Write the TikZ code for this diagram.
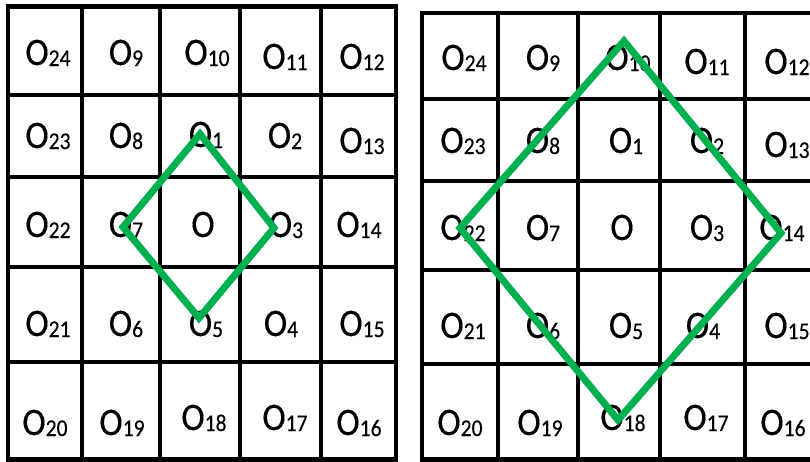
\documentclass[tikz,border=0pt]{standalone}
\usepackage{fontspec}
\setmainfont{Carlito}[FakeStretch=0.9,FakeBold=0.3]
\tikzset{
  gridline/.style={line width=4.2pt, black},
  diamondline/.style={line width=7pt, draw=diamondgreen, line join=miter},
  lbl/.style={anchor=base, inner sep=0pt, font=\fontsize{39}{39}\selectfont},
}
\definecolor{diamondgreen}{RGB}{0,176,80}
\newcommand{\Olbl}[1]{O\raisebox{-1pt}{\fontsize{24}{24}\selectfont #1}}
\begin{document}
\begin{tikzpicture}[x=1pt,y=-1pt]
\useasboundingbox (0,0) rectangle (810,461);
\clip (0,0) rectangle (810,461);
\fill[white] (0,0) rectangle (810,461);
% ---------- left grid ----------
\foreach \x in {8,82,160,240,321,396} \draw[gridline] (\x,6.5) -- (\x,459.5);
\foreach \y in {6.5,95,177,267,362,459.5} \draw[gridline] (5.9,\y) -- (398.1,\y);
% labels left
\node[lbl] (La24) at (48,65) {\Olbl{24}};
\node[lbl] (La9)  at (126,65) {\Olbl{9}};
\node[lbl] (La10) at (207,65) {\Olbl{10}};
\node[lbl] (La11) at (285,69) {\Olbl{11}};
\node[lbl] (La12) at (362,69) {\Olbl{12}};
\node[lbl] (La23) at (48,148) {\Olbl{23}};
\node[lbl] (La8)  at (126,148) {\Olbl{8}};
\node[lbl] (La1)  at (206,147) {\Olbl{1}};
\node[lbl] (La2)  at (285,148) {\Olbl{2}};
\node[lbl] (La13) at (362,153) {\Olbl{13}};
\node[lbl] (La22) at (48,237) {\Olbl{22}};
\node[lbl] (La7)  at (126,237) {\Olbl{7}};
\node[lbl] (La0)  at (203,237) {O};
\node[lbl] (La3)  at (286,237) {\Olbl{3}};
\node[lbl] (La14) at (359,237) {\Olbl{14}};
\node[lbl] (La21) at (48,336) {\Olbl{21}};
\node[lbl] (La6)  at (126,336) {\Olbl{6}};
\node[lbl] (La5)  at (206,336) {\Olbl{5}};
\node[lbl] (La4)  at (281,336) {\Olbl{4}};
\node[lbl] (La15) at (362,336) {\Olbl{15}};
\node[lbl] (La20) at (45,435) {\Olbl{20}};
\node[lbl] (La19) at (122,435) {\Olbl{19}};
\node[lbl] (La18) at (204,430) {\Olbl{18}};
\node[lbl] (La17) at (285,430) {\Olbl{17}};
\node[lbl] (La16) at (359,435) {\Olbl{16}};
% left diamond
\coordinate (LT) at (200,134);
\coordinate (LR) at (274,228);
\coordinate (LB) at (199,318);
\coordinate (LL) at (123,227);
\draw[diamondline] (LT) -- (LR) -- (LB) -- (LL) -- cycle;
% ---------- right grid ----------
\foreach \x in {422,498,578,660,745,830} \draw[gridline] (\x,13.3) -- (\x,459.5);
\foreach \y in {13.3,99.3,181,270,364.3,459.5} \draw[gridline] (419.9,\y) -- (832,\y);
% labels right
\node[lbl] (Rb24) at (464,70) {\Olbl{24}};
\node[lbl] (Rb9)  at (543,70) {\Olbl{9}};
\node[lbl] (Rb10) at (628,70) {\Olbl{10}};
\node[lbl] (Rb11) at (707,74) {\Olbl{11}};
\node[lbl] (Rb12) at (787,74) {\Olbl{12}};
\node[lbl] (Rb23) at (463,153) {\Olbl{23}};
\node[lbl] (Rb8)  at (543,153) {\Olbl{8}};
\node[lbl] (Rb1)  at (626,153) {\Olbl{1}};
\node[lbl] (Rb2)  at (707,153) {\Olbl{2}};
\node[lbl] (Rb13) at (787,157) {\Olbl{13}};
\node[lbl] (Rb22) at (463,240) {\Olbl{22}};
\node[lbl] (Rb7)  at (543,240) {\Olbl{7}};
\node[lbl] (Rb0)  at (622,240) {O};
\node[lbl] (Rb3)  at (707,240) {\Olbl{3}};
\node[lbl] (Rb14) at (782,240) {\Olbl{14}};
\node[lbl] (Rb21) at (463,338) {\Olbl{21}};
\node[lbl] (Rb6)  at (543,338) {\Olbl{6}};
\node[lbl] (Rb5)  at (626,338) {\Olbl{5}};
\node[lbl] (Rb4)  at (703,338) {\Olbl{4}};
\node[lbl] (Rb15) at (787,338) {\Olbl{15}};
\node[lbl] (Rb20) at (460,435) {\Olbl{20}};
\node[lbl] (Rb19) at (540,435) {\Olbl{19}};
\node[lbl] (Rb18) at (623,430) {\Olbl{18}};
\node[lbl] (Rb17) at (706,430) {\Olbl{17}};
\node[lbl] (Rb16) at (783,435) {\Olbl{16}};
% right diamond
\coordinate (RT) at (624,41);
\coordinate (RR) at (781,233);
\coordinate (RB) at (618,420);
\coordinate (RL) at (460,228);
\draw[diamondline] (RT) -- (RR) -- (RB) -- (RL) -- cycle;
\end{tikzpicture}
\end{document}
